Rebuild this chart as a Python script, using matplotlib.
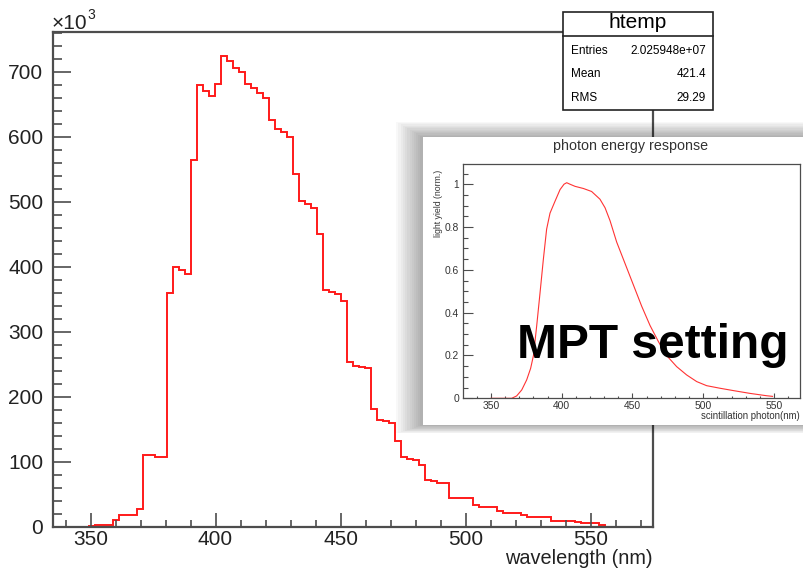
import matplotlib
matplotlib.use("Agg")
import matplotlib.pyplot as plt
import numpy as np
from matplotlib.patches import Rectangle
from matplotlib.ticker import MultipleLocator

plt.rcParams['font.family'] = ['Liberation Sans', 'DejaVu Sans']

# ---------------- data ----------------
# main histogram "htemp": 100 bins from 335 to 575 nm, contents in units of 10^3
bin_lo, bin_hi, n_bins = 335.0, 575.0, 100
counts_k = [
    0, 0, 0, 0, 0, 0, 1, 3, 3, 3.5,
    10, 18, 18, 18, 28, 110, 110, 108, 107, 360,
    400, 396, 389, 565, 679, 671, 663, 681, 725, 716,
    706, 699, 682, 675, 668, 659, 626, 612, 608, 600,
    543, 501, 496, 491, 450, 365, 362, 358, 348, 253,
    248, 246, 244, 181, 165, 163, 160, 132, 107, 105,
    103, 95, 72, 71, 68, 67, 45, 45, 45, 45,
    34, 30, 30, 30, 25, 22, 22, 22, 18.5, 16,
    16, 16, 16, 9, 9, 9, 9, 8, 5.5, 5.5,
    5.5, 3, 0, 0, 0, 0, 0, 0, 0, 0,
]
x_ticks = [350, 400, 450, 500, 550]
y_ticks = [0, 100, 200, 300, 400, 500, 600, 700]

stats_title = "htemp"
stats_names = ["Entries", "Mean", "RMS"]
stats_values = ["2.025948e+07", "421.4", "29.29"]

# inset: photon energy response (MPT setting)
inset_wl = [350, 364.6, 368.1, 371.7, 375.2, 378, 380, 382.3, 384.6, 387, 389.3,
            391.7, 395.2, 398.8, 401.6, 403.5, 405.8, 409.4, 415.3, 421.1, 427,
            430.6, 434.1, 438.8, 444.7, 450.6, 456.5, 462.4, 468.3, 474.1, 481.2,
            488.3, 495.4, 502.4, 511.8, 521.3, 533, 544.8, 549]
inset_yield = [0, 0, 0.011, 0.039, 0.086, 0.14, 0.20, 0.34, 0.49, 0.65, 0.79,
               0.865, 0.92, 0.975, 1.0, 1.007, 1.0, 0.99, 0.98, 0.966, 0.93,
               0.89, 0.83, 0.73, 0.63, 0.53, 0.43, 0.34, 0.265, 0.20, 0.148,
               0.109, 0.078, 0.059, 0.047, 0.036, 0.023, 0.012, 0.009]
inset_xticks = [350, 400, 450, 500, 550]
inset_yticks = [0, 0.2, 0.4, 0.6, 0.8, 1.0]

# ---------------- figure ----------------
W, H = 804, 568
fig = plt.figure(figsize=(W / 100, H / 100), dpi=100)


def fr(x0, y0, x1, y1):
    return [x0 / W, 1 - y1 / H, (x1 - x0) / W, (y1 - y0) / H]


AX = '#4d4d4d'
ax = fig.add_axes(fr(53, 32, 653, 527))
ax.set_zorder(0)
edges = np.linspace(bin_lo, bin_hi, n_bins + 1)
counts = np.array(counts_k, dtype=float)
nz = np.nonzero(counts)[0]
i0, i1 = nz[0], nz[-1] + 1
ax.stairs(counts[i0:i1], edges[i0:i1 + 1], baseline=0, color='#ff1a1a', lw=1.4)
ax.set_xlim(bin_lo, bin_hi)
ax.set_ylim(0, 1.05 * max(counts_k))
ax.set_xticks(x_ticks)
ax.set_yticks(y_ticks)
ax.xaxis.set_minor_locator(MultipleLocator(10))
ax.yaxis.set_minor_locator(MultipleLocator(20))
ax.tick_params(axis='x', which='major', direction='in', length=10, width=1.2, color=AX,
               labelsize=15, pad=2.5, labelcolor='#222222')
ax.tick_params(axis='x', which='minor', direction='in', length=5, width=1.2, color=AX)
ax.tick_params(axis='y', which='major', direction='in', length=13, width=1.2, color=AX,
               labelsize=15, pad=7, labelcolor='#222222')
ax.tick_params(axis='y', which='minor', direction='in', length=6.5, width=1.2, color=AX)
for s in ax.spines.values():
    s.set_color(AX)
    s.set_linewidth(1.6)

fig.text(653 / W, 1 - 559 / H, "wavelength (nm)", ha='right', va='center', fontsize=14.3,
         color='#222222')
fig.text(52 / W, 1 - 29 / H, "×10", ha='left', va='baseline', fontsize=15, color='#222222')
fig.text(87 / W, 1 - 19 / H, "3", ha='left', va='baseline', fontsize=10, color='#222222')

# ---------------- stats box ----------------
bx0, by0, bx1, by1 = 563, 12, 713, 110
fig.patches.append(Rectangle((bx0 / W, 1 - by1 / H), (bx1 - bx0) / W, (by1 - by0) / H,
                             transform=fig.transFigure, facecolor='white', edgecolor='#222222',
                             lw=1.2, zorder=3))
fig.lines.append(plt.Line2D([bx0 / W, bx1 / W], [1 - 36 / H, 1 - 36 / H],
                            transform=fig.transFigure, color='#222222', lw=1.2, zorder=4))
fig.text((bx0 + bx1) / 2 / W, 1 - 23 / H, stats_title, ha='center', va='center',
         fontsize=15, color='black', zorder=5)
for i, (nm, val) in enumerate(zip(stats_names, stats_values)):
    yy = 1 - (51 + 23.3 * i) / H
    fig.text(571 / W, yy, nm, ha='left', va='center', fontsize=8.5, color='black', zorder=5)
    fig.text(706 / W, yy, val, ha='right', va='center', fontsize=8.5, color='black', zorder=5)

# ---------------- inset panel with shadow ----------------
px0, py0, px1, py1 = 422.7, 137.3, 820, 425
for i in range(1, 13):
    fig.patches.append(Rectangle(((px0 - 2.2 * i) / W, 1 - (py1 + 0.7 * i) / H),
                                 (px1 - px0 + 2.2 * i) / W, (py1 - py0 + 2.0 * i) / H,
                                 transform=fig.transFigure, facecolor='black',
                                 edgecolor='none', alpha=0.026, zorder=6))
fig.patches.append(Rectangle((px0 / W, 1 - py1 / H), (px1 - px0) / W, (py1 - py0) / H,
                             transform=fig.transFigure, facecolor='white', edgecolor='none',
                             zorder=7))

iax = fig.add_axes(fr(463.3, 164.3, 800, 398.3))
iax.set_zorder(8)
iax.patch.set_alpha(0)
iax.plot(inset_wl, inset_yield, color='#ff3333', lw=0.8)
iax.set_xlim(330.4, 568.4)
iax.set_ylim(0, 1.093)
iax.set_xticks(inset_xticks)
iax.set_yticks(inset_yticks)
iax.set_yticklabels(["0", "0.2", "0.4", "0.6", "0.8", "1"])
iax.xaxis.set_minor_locator(MultipleLocator(10))
iax.yaxis.set_minor_locator(MultipleLocator(0.05))
iax.tick_params(axis='x', which='major', direction='in', length=3.6, width=0.8, color=AX,
                labelsize=7.4, pad=2, labelcolor='#333333')
iax.tick_params(axis='x', which='minor', direction='in', length=1.8, width=0.8, color=AX)
iax.tick_params(axis='y', which='major', direction='in', length=7, width=0.8, color=AX,
                labelsize=7.4, pad=3, labelcolor='#333333')
iax.tick_params(axis='y', which='minor', direction='in', length=3.6, width=0.8, color=AX)
for s in iax.spines.values():
    s.set_color(AX)
    s.set_linewidth(0.9)

fig.text(631 / W, 1 - 146 / H, "photon energy response", ha='center', va='center',
         fontsize=10.3, color='#333333', zorder=9)
fig.text(799.5 / W, 1 - 416 / H, "scintillation photon(nm)", ha='right', va='center',
         fontsize=6.9, color='#333333', zorder=9)
fig.text(438.3 / W, 1 - 170 / H, "light yield (norm.)", ha='center', va='top', rotation=90,
         fontsize=6.3, color='#333333', zorder=9)
fig.text(653 / W, 1 - 358 / H, "MPT setting", ha='center', va='baseline', fontsize=34.5,
         fontweight='bold', color='black', zorder=10)

fig.savefig("out.png", dpi=100)
